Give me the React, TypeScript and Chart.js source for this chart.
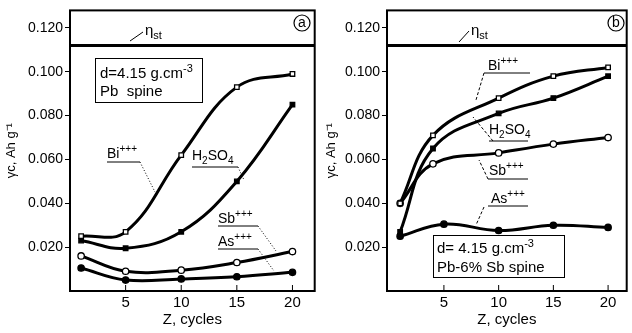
import { useEffect, useRef } from "react";
import { Chart, registerables } from "chart.js";

Chart.register(...registerables);
Chart.defaults.color = "#000";

// ---------- data ----------
const xTickValues = [5, 10, 15, 20];
const yTickValues = [0.02, 0.04, 0.06, 0.08, 0.1, 0.12];
const yTickLabels = ["0.020", "0.040", "0.060", "0.080", "0.100", "0.120"];
const etaSt = 0.112;

// panel (a) Pb spine
const cyclesA = [1, 5, 10, 15, 20];
const biA = [0.025, 0.027, 0.062, 0.093, 0.099];
const h2so4A = [0.023, 0.0195, 0.027, 0.05, 0.085];
const sbA = [0.016, 0.009, 0.0095, 0.013, 0.018];
const asA = [0.0105, 0.005, 0.0055, 0.0065, 0.0085];

// panel (b) Pb-6% Sb spine
const cyclesB = [1, 4, 10, 15, 20];
const biB = [0.04, 0.071, 0.088, 0.098, 0.102];
const h2so4B = [0.027, 0.065, 0.081, 0.088, 0.098];
const sbB = [0.04, 0.058, 0.063, 0.067, 0.07];
const cyclesBAs = [1, 5, 10, 15, 20];
const asB = [0.025, 0.0305, 0.0276, 0.030, 0.029];

const FONT = '"Liberation Sans", Arial, sans-serif';

type Seg = { t: string; k?: "sup" | "sub" };

function drawRich(ctx: CanvasRenderingContext2D, x: number, y: number, segs: Seg[], size: number) {
  let cx = x;
  for (const s of segs) {
    const sz = s.k ? Math.round(size * 0.7) : size;
    ctx.font = `${sz}px ${FONT}`;
    const dy = s.k === "sup" ? -size * 0.4 : s.k === "sub" ? size * 0.25 : 0;
    ctx.fillText(s.t, cx, y + dy);
    cx += ctx.measureText(s.t).width;
  }
  return cx - x;
}

function line(ctx: CanvasRenderingContext2D, x1: number, y1: number, x2: number, y2: number, dash: number[] = [], w = 1) {
  ctx.save();
  ctx.setLineDash(dash);
  ctx.lineWidth = w;
  ctx.beginPath();
  ctx.moveTo(x1, y1);
  ctx.lineTo(x2, y2);
  ctx.stroke();
  ctx.restore();
}

type Label = { segs: Seg[]; x: number; y: number; ul: [number, number, number]; leader: [number, number, number, number] };
type PanelAnno = {
  letter: string;
  circle: [number, number];
  box: [number, number, number, number];
  boxLines: { segs: Seg[]; x: number; y: number }[];
  eta: { x: number; y: number; leader: [number, number, number, number] };
  labels: Label[];
  dash: number[];
};

const sup3: Seg = { t: "+++", k: "sup" };
const h2so4Segs: Seg[] = [{ t: "H" }, { t: "2", k: "sub" }, { t: "SO" }, { t: "4", k: "sub" }];

const annoA: PanelAnno = {
  letter: "a",
  circle: [302, 23],
  box: [95, 58, 202, 102],
  boxLines: [
    { segs: [{ t: "d=4.15 g.cm" }, { t: "-3", k: "sup" }], x: 100, y: 78 },
    { segs: [{ t: "Pb  spine" }], x: 100, y: 96 },
  ],
  eta: { x: 145, y: 35, leader: [130, 41, 143, 32] },
  labels: [
    { segs: [{ t: "Bi" }, sup3], x: 107, y: 158, ul: [107, 140, 162], leader: [140, 162, 155, 192] },
    { segs: h2so4Segs, x: 192, y: 160, ul: [192, 238, 167], leader: [238, 167, 244, 180] },
    { segs: [{ t: "Sb" }, sup3], x: 218, y: 223, ul: [218, 258, 226], leader: [258, 226, 276, 251] },
    { segs: [{ t: "As" }, sup3], x: 218, y: 246, ul: [218, 258, 249], leader: [258, 249, 274, 271] },
  ],
  dash: [1, 2],
};

const annoB: PanelAnno = {
  letter: "b",
  circle: [296, 23],
  box: [113, 235, 244, 277],
  boxLines: [
    { segs: [{ t: "d= 4.15 g.cm" }, { t: "-3", k: "sup" }], x: 117, y: 253 },
    { segs: [{ t: "Pb-6% Sb spine" }], x: 117, y: 272 },
  ],
  eta: { x: 151, y: 35, leader: [139, 42, 149, 31] },
  labels: [
    { segs: [{ t: "Bi" }, sup3], x: 168, y: 70, ul: [164, 210, 73], leader: [164, 73, 156, 100] },
    { segs: h2so4Segs, x: 169, y: 134, ul: [169, 208, 141], leader: [173, 141, 153, 117] },
    { segs: [{ t: "Sb" }, sup3], x: 169, y: 175, ul: [168, 208, 179], leader: [168, 179, 159, 160] },
    { segs: [{ t: "As" }, sup3], x: 171, y: 203, ul: [168, 208, 206], leader: [164, 207, 156, 225] },
  ],
  dash: [3, 2],
};

function makeAnnoPlugin(anno: PanelAnno) {
  return {
    id: "anno" + anno.letter,
    afterDraw(chart: any) {
      const ctx: CanvasRenderingContext2D = chart.ctx;
      const { left, right, top, bottom } = chart.chartArea;
      const xs = chart.scales.x;
      ctx.save();
      ctx.strokeStyle = "#000";
      ctx.fillStyle = "#000";
      // frame
      ctx.lineWidth = 2;
      ctx.strokeRect(left, top, right - left, bottom - top);
      // inward x ticks
      for (const v of xTickValues) {
        const px = xs.getPixelForValue(v);
        line(ctx, px, bottom, px, bottom - 6, [], 1);
      }
      // circled letter
      ctx.lineWidth = 1.2;
      ctx.beginPath();
      ctx.arc(anno.circle[0], anno.circle[1], 8, 0, Math.PI * 2);
      ctx.stroke();
      ctx.font = `14px ${FONT}`;
      ctx.textAlign = "center";
      ctx.textBaseline = "middle";
      ctx.fillText(anno.letter, anno.circle[0], anno.circle[1]);
      ctx.textAlign = "left";
      ctx.textBaseline = "alphabetic";
      // box
      ctx.lineWidth = 1;
      const [bx1, by1, bx2, by2] = anno.box;
      ctx.fillStyle = "#fff";
      ctx.fillRect(bx1, by1, bx2 - bx1, by2 - by1);
      ctx.strokeRect(bx1 + 0.5, by1 + 0.5, bx2 - bx1, by2 - by1);
      ctx.fillStyle = "#000";
      for (const bl of anno.boxLines) drawRich(ctx, bl.x, bl.y, bl.segs, 15);
      // eta_st
      drawRich(ctx, anno.eta.x, anno.eta.y, [{ t: "η" }, { t: "st", k: "sub" }], 15);
      const el = anno.eta.leader;
      line(ctx, el[0], el[1], el[2], el[3], [], 1);
      // series labels
      for (const lb of anno.labels) {
        drawRich(ctx, lb.x, lb.y, lb.segs, 14);
        line(ctx, lb.ul[0], lb.ul[2], lb.ul[1], lb.ul[2], [], 1);
        line(ctx, lb.leader[0], lb.leader[1], lb.leader[2], lb.leader[3], anno.dash, 1);
      }
      ctx.restore();
    },
  };
}

function series(xs: number[], ys: number[], style: "rect" | "circle", filled: boolean) {
  return {
    data: xs.map((x, i) => ({ x, y: ys[i] })),
    borderColor: "#000",
    borderWidth: 3,
    pointStyle: style,
    pointRadius: 3.2,
    pointBackgroundColor: filled ? "#000" : "#fff",
    pointBorderColor: "#000",
    pointBorderWidth: 1.3,
    tension: 0.4,
    fill: false,
  };
}

function makeConfig(opts: {
  xMin: number;
  xMax: number;
  yAxisWidth: number;
  padRight: number;
  datasets: any[];
  anno: PanelAnno;
}) {
  const etaLine = {
    data: [
      { x: opts.xMin, y: etaSt },
      { x: opts.xMax, y: etaSt },
    ],
    borderColor: "#000",
    borderWidth: 3,
    pointRadius: 0,
    fill: false,
  };
  return {
    type: "line" as const,
    data: { datasets: [etaLine, ...opts.datasets] },
    plugins: [makeAnnoPlugin(opts.anno)],
    options: {
      responsive: false,
      animation: false,
      devicePixelRatio: 1,
      layout: { padding: { top: 6, right: opts.padRight, left: 0, bottom: 0 } },
      plugins: { legend: { display: false }, tooltip: { enabled: false } },
      scales: {
        x: {
          type: "linear",
          min: opts.xMin,
          max: opts.xMax,
          afterBuildTicks: (s: any) => {
            s.ticks = xTickValues.map((v) => ({ value: v }));
          },
          afterFit: (s: any) => {
            s.height = 42;
          },
          grid: { display: false, drawTicks: false },
          border: { display: false },
          ticks: { padding: 3, font: { family: FONT, size: 15 }, color: "#000", maxRotation: 0 },
          title: {
            display: true,
            text: "Z, cycles",
            font: { family: FONT, size: 15 },
            color: "#000",
            padding: { top: 0, bottom: 4 },
          },
        },
        y: {
          type: "linear",
          min: 0,
          max: 0.128,
          afterBuildTicks: (s: any) => {
            s.ticks = yTickValues.map((v) => ({ value: v }));
          },
          afterFit: (s: any) => {
            s.width = opts.yAxisWidth;
          },
          grid: { drawOnChartArea: false, drawTicks: true, tickLength: 5, color: "#000", lineWidth: 1 },
          border: { display: false },
          ticks: {
            padding: 2,
            font: { family: FONT, size: 14 },
            color: "#000",
            callback: (v: number) => {
              const i = yTickValues.indexOf(v);
              return i >= 0 ? yTickLabels[i] : "";
            },
          },
          title: {
            display: true,
            text: "γc, Ah g⁻¹",
            font: { family: FONT, size: 13 },
            color: "#000",
            padding: { top: 4, bottom: 0 },
          },
        },
      },
    },
  };
}

function Panel(props: { width: number; left: number; config: any }) {
  const ref = useRef<HTMLCanvasElement | null>(null);
  useEffect(() => {
    if (!ref.current) return;
    const chart = new Chart(ref.current, props.config);
    return () => chart.destroy();
  }, []);
  return (
    <canvas
      ref={ref}
      width={props.width}
      height={333}
      style={{ position: "absolute", left: props.left, top: 0, width: props.width, height: 333 }}
    />
  );
}

const configA = makeConfig({
  xMin: 0,
  xMax: 22,
  yAxisWidth: 70,
  padRight: 1,
  anno: annoA,
  datasets: [
    series(cyclesA, biA, "rect", false),
    series(cyclesA, h2so4A, "rect", true),
    series(cyclesA, sbA, "circle", false),
    series(cyclesA, asA, "circle", true),
  ],
});

const configB = makeConfig({
  xMin: -0.2,
  xMax: 21.7,
  yAxisWidth: 67,
  padRight: 0,
  anno: annoB,
  datasets: [
    series(cyclesB, biB, "rect", false),
    series(cyclesB, h2so4B, "rect", true),
    series(cyclesB, sbB, "circle", false),
    series(cyclesBAs, asB, "circle", true),
  ],
});

export default function App() {
  return (
    <div style={{ position: "fixed", left: 0, top: 0, width: 632, height: 333, background: "#fff", overflow: "hidden" }}>
      <Panel width={320} left={0} config={configA} />
      <Panel width={312} left={320} config={configB} />
    </div>
  );
}
